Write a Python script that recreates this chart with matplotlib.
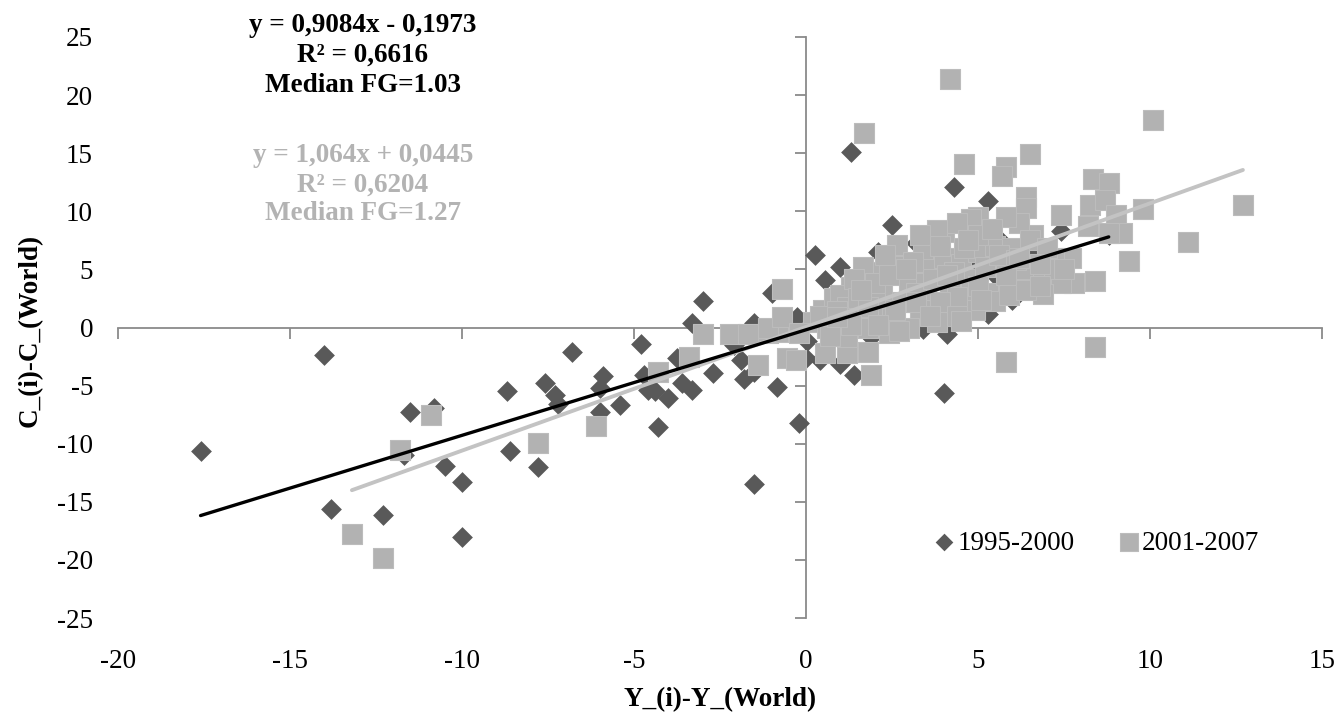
import matplotlib
matplotlib.use("Agg")
import matplotlib.pyplot as plt
import numpy as np

plt.rcParams['font.family'] = ['Liberation Serif', 'DejaVu Serif']

# ---- data: 1995-2000 (diamonds) ----
d_x = [-17.6, -14.0, -13.8, -12.3, -11.7, -11.5, -10.8, -10.5, -10.0, -10.0,
       -8.6, -8.7, -7.8, -7.6, -7.3, -7.2, -6.8, -5.9, -6.0, -6.0,
       -5.4, -4.8, -4.7, -4.6, -4.4, -4.0, -4.3, -3.75, -3.6, -3.3,
       -3.3, -3.0, -2.7, -2.1, -1.9, -1.8, -1.5, -1.5, -1.5, -1.0,
       -0.85, -0.6, -0.2, -0.26, 0.0, 0.03, 0.26, 0.4, 0.55, 1.0,
       1.0, 0.8, 1.3, 1.4, 1.6, 1.9, 2.1, 2.5, 2.2, 2.8,
       3.2, 3.4, 3.0, 3.6, 3.9, 4.0, 4.1, 4.3, 4.5, 4.8,
       5.3, 5.3, 5.7, 5.5, 6.0, 6.2, 6.7, 7.4, 6.5, 8.8]
d_y = [-10.6, -2.4, -15.6, -16.1, -11.0, -7.3, -6.9, -11.9, -13.3, -18.0,
       -10.6, -5.5, -12.0, -4.8, -5.8, -6.6, -2.1, -4.2, -5.2, -7.3,
       -6.7, -1.4, -4.1, -5.4, -5.5, -6.1, -8.6, -2.6, -4.8, -5.4,
       0.4, 2.3, -3.9, -1.5, -2.8, -4.4, -3.8, 0.4, -13.5, 3.0,
       -5.1, -0.3, -8.2, 0.9, -2.6, -1.2, 6.2, -2.8, 4.1, 5.2,
       -3.1, 2.0, 15.1, -4.1, 1.0, -0.8, 6.5, 8.8, 3.0, 2.4,
       7.3, -0.1, 4.5, 1.5, 6.5, -5.6, -0.6, 12.1, 3.5, 5.5,
       10.9, 1.2, 7.4, 4.5, 2.4, 5.0, 6.4, 8.3, 3.5, 8.0]

# ---- data: 2001-2007 (squares) ----
s_x = [-13.2, -12.3, -11.8, -10.9, -7.8, -6.1, -4.3, -3.4, -3.0, -2.2,
       -1.7, -1.1, -0.8, -1.4, -1.1, -0.7, -0.7, -0.55, -0.3, 0.2,
       0.5, 0.8, 0.55, 1.2, 1.8, 1.9, 1.7, 4.2, 4.6, 5.8,
       5.7, 6.5, 5.8, 8.4, 10.1, 12.7, 11.1, 9.4, 9.8, 8.35,
       8.8, 8.25, 8.7, 9.0, 9.2, 8.8, 8.2, 7.4, 8.4, 7.8,
       7.4, 7.7, 7.2, 6.4, 6.4, 6.9, 6.6, 6.2, 5.8, 5.0,
       4.8, 4.0, 3.8, 2.65, 3.4, 2.6, 2.0, 1.66, 1.3, 1.0,
       2.2, 3.0, 3.6, 4.0, 4.5, 5.0, 5.5, 6.0, 6.5, 5.7,
       4.8, 4.2, 3.5, 2.8, 2.2, 1.5, 1.0, 1.8, 2.5, 3.3,
       4.0, 4.7, 5.3, 6.0, 6.7, 7.2, 5.5, 4.9, 3.8, 3.0,
       2.4, 1.2, 0.6, 2.7, 3.5, 2.0, 1.2, 0.4, -0.2, 7.0,
       6.3, 3.9, 4.4, 5.0, 5.9, 6.4, 4.3, 3.1, 1.4, 0.9,
       1.5, 2.0, 2.4, 2.9, 3.2, 3.7, 4.1, 4.6, 5.2, 5.6,
       6.1, 5.0, 4.4, 3.9, 3.2, 2.6, 1.8, 1.3, 0.7, 2.1,
       4.4, 5.1, 5.8, 6.8, 6.8, 7.5, 6.2, 4.7, 3.3, 5.4,
       2.3, 1.6, 0.9, 3.6, 4.5]
s_y = [-17.8, -19.8, -10.5, -7.5, -9.9, -8.5, -3.8, -2.5, -0.6, -0.6,
       -0.6, -0.5, -0.4, -3.2, 0.0, 3.3, 0.9, -2.6, -2.8, 0.5,
       1.5, 2.5, -2.2, -2.2, -2.1, -4.1, 16.7, 21.4, 14.1, 13.8,
       13.0, 14.9, -3.0, -1.7, 17.9, 10.5, 7.4, 5.7, 10.2, 12.8,
       12.4, 10.5, 11.0, 9.7, 8.1, 8.1, 8.7, 9.7, 4.0, 3.8,
       3.8, 6.0, 6.0, 11.2, 10.3, 2.9, 8.0, 9.0, 9.5, 9.5,
       9.3, 8.2, 8.4, 7.1, 6.5, 5.3, 4.8, 5.2, 3.5, 2.8,
       3.0, 4.0, 5.0, 6.0, 5.5, 6.5, 7.0, 6.8, 7.5, 5.5,
       4.2, 3.5, 2.8, 2.2, 1.5, 1.2, 0.5, 0.0, 0.8, 1.5,
       1.8, 2.0, 3.0, 3.8, 4.5, 5.0, 2.3, 1.5, 0.5, 0.0,
       -0.5, -0.8, 0.0, -0.3, 3.8, 2.5, 1.8, 1.0, -0.5, 6.8,
       5.0, 7.0, 9.0, 8.0, 2.8, 3.2, 4.8, 5.6, 4.2, 1.4,
       2.5, 3.8, 4.5, 5.0, 3.0, 4.2, 4.5, 6.8, 5.2, 6.2,
       5.8, 3.6, 2.6, 2.2, 2.2, 1.5, 1.8, 0.2, -0.7, 0.2,
       1.0, 2.4, 4.5, 5.5, 3.6, 5.0, 6.0, 7.5, 8.0, 8.5,
       6.2, 3.2, 0.9, 1.0, 0.6]

series_labels = ["1995-2000", "2001-2007"]
fit_d = (0.9084, -0.1973)
fit_s = (1.064, 0.0445)
eq_d = ["y = 0,9084x - 0,1973", "R² = 0,6616", "Median FG=1.03"]
eq_s = ["y = 1,064x + 0,0445", "R² = 0,6204", "Median FG=1.27"]
xticks = [-20, -15, -10, -5, 0, 5, 10, 15]
yticks = [-25, -20, -15, -10, -5, 0, 5, 10, 15, 20, 25]
x_title = "Y_(i)-Y_(World)"
y_title = "C_(i)-C_(World)"

c_dia = '#595959'
c_sq = '#b2b2b2'
c_sq_line = '#c3c3c3'
c_sq_text = '#b3b3b3'
c_axis = '#8a8a8a'
FS = 19.5

W, H = 1339, 721
fig = plt.figure(figsize=(W / 100, H / 100), dpi=100)
ax = fig.add_axes([118 / W, 103 / H, 1204 / W, 581 / H])
ax.set_xlim(-20, 15)
ax.set_ylim(-25, 25)

ax.scatter(d_x, d_y, marker='D', s=112, color=c_dia, linewidths=0, zorder=3,
           label=series_labels[0])
ax.scatter(s_x, s_y, marker='s', s=210, facecolor=c_sq, edgecolor='#bcbcbc',
           linewidths=0.8, zorder=4, label=series_labels[1])

xd = np.array([min(d_x), max(d_x)])
ax.plot(xd, fit_d[0] * xd + fit_d[1], color='black', lw=2.4, zorder=6,
        solid_capstyle='round')
xs = np.array([min(s_x), max(s_x)])
ax.plot(xs, fit_s[0] * xs + fit_s[1], color=c_sq_line, lw=2.8, zorder=5,
        solid_capstyle='round')

for side in ['top', 'right']:
    ax.spines[side].set_visible(False)
ax.spines['left'].set_position(('data', 0))
ax.spines['bottom'].set_position(('data', 0))
for side in ['left', 'bottom']:
    ax.spines[side].set_color(c_axis)
    ax.spines[side].set_linewidth(1.3)
    ax.spines[side].set_zorder(2)
ax.set_xticks(xticks)
ax.set_yticks(yticks)
ax.tick_params(direction='out', length=8, width=1.3, color=c_axis,
               labelbottom=False, labelleft=False)

sx = ax.secondary_xaxis('bottom')
sx.set_xticks(xticks)
sx.set_xticklabels([str(v) for v in xticks])
sx.tick_params(length=0, labelsize=FS, pad=22)
sx.spines['bottom'].set_visible(False)

sy = ax.secondary_yaxis('left')
sy.set_yticks(yticks)
sy.set_yticklabels([str(v) for v in yticks])
sy.tick_params(length=0, labelsize=FS, pad=18)
sy.spines['left'].set_visible(False)

fig.text(720 / W, 1 - 700 / H, x_title, ha='center', va='center',
         fontsize=FS, fontweight='bold')
fig.text(30 / W, 1 - 330 / H, y_title, ha='center', va='center',
         fontsize=FS, fontweight='bold', rotation=90)

for i, t in enumerate(eq_d):
    fig.text(363 / W, 1 - (26 + 29.5 * i) / H, t, ha='center', va='center',
             fontsize=FS, fontweight='bold', color='black')
for i, t in enumerate(eq_s):
    fig.text(363 / W, 1 - (156 + 29 * i) / H, t, ha='center', va='center',
             fontsize=FS, fontweight='bold', color=c_sq_text)

leg = ax.legend(loc='center', bbox_to_anchor=(1098 / W, 1 - 543 / H),
                bbox_transform=fig.transFigure, ncol=2, frameon=False,
                fontsize=FS, handlelength=0.55, handletextpad=0.2,
                columnspacing=1.75, borderpad=0, markerscale=0.85)

fig.savefig('out.png', dpi=100)
